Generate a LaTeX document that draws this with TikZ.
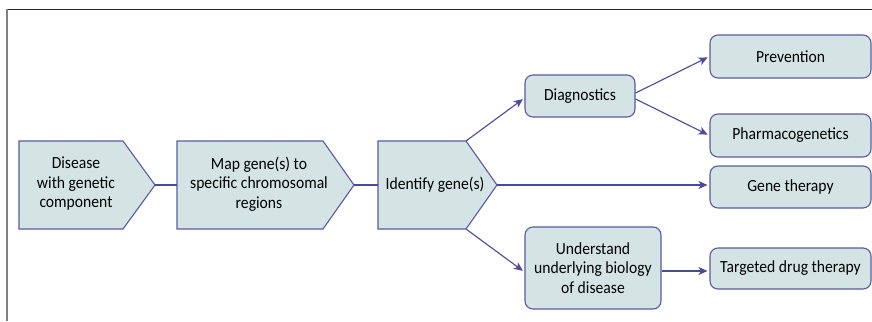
\documentclass[tikz,border=0pt]{standalone}
\usepackage{fontspec}
\setmainfont{Carlito}[FakeStretch=0.92]
\usetikzlibrary{arrows.meta,calc}
\definecolor{boxfill}{HTML}{D4E4E4}
\definecolor{boxline}{HTML}{5A5AA0}
\definecolor{conn}{HTML}{4A4A9A}
\definecolor{txt}{HTML}{000000}
\tikzset{
  chev/.style={draw=boxline,fill=boxfill,line width=1.1pt,line join=miter},
  chevtext/.style={text=txt,align=center,font=\fontsize{17}{19.5}\selectfont,inner sep=0pt},
  rbox/.style={draw=boxline,fill=boxfill,line width=1.1pt,rounded corners=8pt,
    text=txt,align=center,font=\fontsize{17}{19.5}\selectfont,inner sep=0pt,
    minimum width=161pt,minimum height=43pt},
  conn/.style={draw=conn,line width=1.1pt,-{Stealth[length=9pt,width=8pt,inset=2.5pt]},shorten >=2pt},
  plainconn/.style={draw=conn,line width=1.1pt}
}
\begin{document}
\begin{tikzpicture}[x=1pt,y=-1pt]
\useasboundingbox (0,0) rectangle (872,321);
% frame
\draw[line width=1pt,color=black!85] (6,9.5) -- (872,9.5);
\draw[line width=1.5pt,color=black!50] (7,9.5) -- (7,321);
% chevrons
\draw[chev] (19,141) -- (123,141) -- (155,185) -- (123,229) -- (19,229) -- cycle;
\draw[chev] (177,141) -- (323,141) -- (354,185) -- (323,229) -- (177,229) -- cycle;
\draw[chev] (378,141) -- (466,141) -- (497,185) -- (466,229) -- (378,229) -- cycle;
\coordinate (dis-w) at (19,185);
\coordinate (dis-tip) at (155,185);
\coordinate (map-w) at (177,185);
\coordinate (map-tip) at (354,185);
\coordinate (id-w) at (378,185);
\coordinate (id-tip) at (497,185);
\coordinate (id-tc) at (466,141);
\coordinate (id-bc) at (466,229);
\node[chevtext] (dis) at (76,184) {Disease\\with genetic\\component};
\node[chevtext] (map) at (259,184) {Map gene(s) to\\specific chromosomal\\regions};
\node[chevtext] (ident) at (435,185) {Identify gene(s)};
% rounded boxes
\node[rbox,minimum width=110pt,minimum height=42pt] (diag) at (580,96) {Diagnostics};
\node[rbox] (prev) at (790.5,56.5) {Prevention};
\node[rbox] (pharm) at (790.5,135.5) {Pharmacogenetics};
\node[rbox,minimum height=42pt] (gene) at (790.5,187) {Gene therapy};
\node[rbox,minimum width=136pt,minimum height=82pt] (und) at (593,268) {Understand\\underlying biology\\of disease};
\node[rbox,minimum height=41pt] (targ) at (790.5,268.5) {Targeted drug therapy};
% connectors
\draw[plainconn] (dis-tip) -- (map-w);
\draw[plainconn] (map-tip) -- (id-w);
\draw[conn] (id-tc) -- ([yshift=-2pt]diag.west);
\draw[conn] ([yshift=3pt]diag.east) -- (prev.west);
\draw[conn] ([yshift=-3pt]diag.east) -- (pharm.west);
\draw[conn] (id-tip) -- (id-tip -| gene.west);
\draw[conn] (id-bc) -- ([yshift=-4pt]und.west);
\draw[conn] ([yshift=-3pt]und.east) -- ([yshift=-3pt]und.east -| targ.west);
\end{tikzpicture}
\end{document}
